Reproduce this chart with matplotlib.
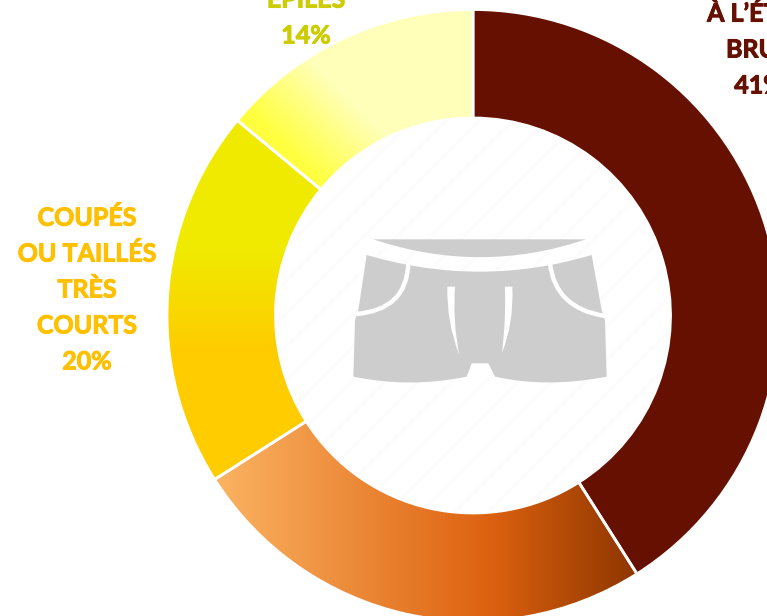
import numpy as np
import matplotlib
matplotlib.use("Agg")
import matplotlib.pyplot as plt
import matplotlib.patheffects as pe
from matplotlib.path import Path
from matplotlib.patches import PathPatch, Circle
from matplotlib.transforms import Affine2D
from matplotlib.colors import to_rgb

W, H = 767, 616
shares = [41, 25, 20, 14]
labels = ["À L’ÉTAT\nBRUT\n41%", None, "COUPÉS\nOU TAILLÉS\nTRÈS\nCOURTS\n20%", "ÉPILÉS\n14%"]
label_colors = ["#651000", None, "#FFC000", "#CCCC00"]
base_colors = ["#651000", "#E07020", "#F8DC00", "#FFFFA0"]

plt.rcParams['font.family'] = ['Lato', 'DejaVu Sans']
plt.rcParams['hatch.linewidth'] = 2.5

fig = plt.figure(figsize=(W / 100, H / 100), dpi=100)
ax = fig.add_axes([0, 0, 1, 1])

cx, cy, R, ring = 473, H - 315.5, 306, 108.5
wedges, _ = ax.pie(shares, colors=base_colors, startangle=90, counterclock=False,
                   center=(cx, cy), radius=R, frame=True,
                   wedgeprops=dict(width=ring, edgecolor="white", linewidth=2))


def ramp(t, stops):
    pos = [s[0] for s in stops]
    cols = np.array([to_rgb(s[1]) for s in stops])
    return np.stack([np.interp(t, pos, cols[:, i]) for i in range(3)], axis=-1)


xx, yy = np.meshgrid(np.arange(W) + .5, np.arange(H) + .5)  # y is pixel row from top
grad_orange = ramp(xx, [(215, "#FBB463"), (488, "#DD6210"), (636, "#8E3600")])
grad_yellow = ramp(yy, [(121, "#F0EA00"), (250, "#F0EA00"), (350, "#FFCC00"), (478, "#FFCC00")])
grad_pale = ramp(xx - yy, [(140, "#FFFF40"), (250, "#FFFFB9"), (480, "#FFFFB9")])

for wedge, img in zip(wedges[1:], [grad_orange, grad_yellow, grad_pale]):
    im = ax.imshow(img, extent=(0, W, 0, H), origin="upper", zorder=1, aspect="auto")
    im.set_clip_path(wedge)
    wedge.set_facecolor("none")
    wedge.set_zorder(2)
wedges[0].set_zorder(2)

# faint hatched disc behind the icon
ax.add_patch(Circle((cx, cy), R - ring, facecolor="white", edgecolor="#FCFCFC",
                    hatch="/", linewidth=0, zorder=3))

# shorts icon, in its own coordinates (y down)
icon = Affine2D().scale(1 / 3, -1 / 3).translate(330, H - 210) + ax.transData
GREY = "#CDCDCD"
M, L, Q = Path.MOVETO, Path.LINETO, Path.CURVE3
waist = Path([(130, 88), (768, 88), (450, 195), (130, 88)], [M, L, Q, Q])
body = Path([(110, 135), (450, 235), (785, 135), (815, 300), (825, 330), (830, 500),
             (650, 535), (495, 500), (475, 460), (425, 460), (410, 500), (240, 535), (70, 500),
             (75, 330), (85, 300), (110, 135)],
            [M, Q, Q, L, L, L, Q, Q, L, L, L, Q, Q, L, L, L])
ax.add_patch(PathPatch(waist, fc=GREY, ec="none", transform=icon, zorder=4))
ax.add_patch(PathPatch(body, fc=GREY, ec="none", transform=icon, zorder=4))
for p in [Path([(235, 160), (230, 300), (78, 312)], [M, Q, Q]),
          Path([(660, 160), (675, 295), (825, 318)], [M, Q, Q])]:
    ax.add_patch(PathPatch(p, fc="none", ec="white", lw=3.2, transform=icon, zorder=5))
fly_left = Path([(352, 230), (375, 230), (368, 340), (388, 435), (350, 340), (352, 230)],
                [M, L, Q, Q, Q, Q])
fly_right = Path([(525, 230), (547, 230), (552, 340), (516, 428), (528, 330), (525, 230)],
                 [M, L, Q, Q, Q, Q])
for p in [fly_left, fly_right]:
    ax.add_patch(PathPatch(p, fc="white", ec="none", transform=icon, zorder=5))

label_pos = [(759, 50), None, (87, 290), (306, 18)]
for lab, col, pos in zip(labels, label_colors, label_pos):
    if lab is None:
        continue
    ax.text(pos[0], H - pos[1], lab, color=col, fontsize=18, fontweight="bold",
            ha="center", va="center", multialignment="center", linespacing=1.68,
            clip_on=False, zorder=6,
            path_effects=[pe.withStroke(linewidth=0.7, foreground=col)])

ax.set_xlim(0, W)
ax.set_ylim(0, H)
ax.set_aspect("auto")
ax.axis("off")
fig.savefig("out.png", dpi=100, facecolor="white")
